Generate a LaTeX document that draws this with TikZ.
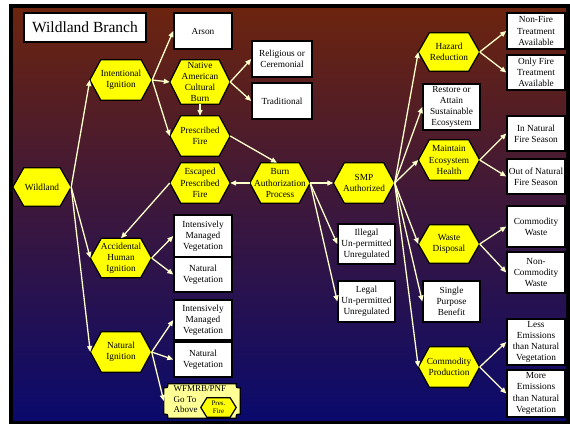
\documentclass[tikz,border=0pt]{standalone}
\usepackage{fontspec}
\setmainfont{Liberation Serif}
\usetikzlibrary{arrows.meta}
\definecolor{hexyel}{RGB}{255,255,0}
\definecolor{plaque}{RGB}{255,255,150}
\definecolor{arr}{RGB}{255,255,204}
\definecolor{topc}{RGB}{108,36,14}
\definecolor{midc}{RGB}{76,24,72}
\definecolor{botc}{RGB}{10,10,108}
\pgfdeclarelayer{back}
\pgfdeclarelayer{shapes}
\pgfsetlayers{back,shapes,main}
\tikzset{
  txt/.style={font=\fontsize{9.3}{11.2}\selectfont, align=center, inner sep=0pt, text=black},
  hx/.style 2 args={txt, minimum width=#1pt, minimum height=#2pt},
  bx/.style 2 args={txt, draw=black, line width=1.4pt, fill=white, minimum width=#1pt, minimum height=#2pt},
  hexline/.style={draw=black, line width=1.2pt, fill=hexyel, line join=miter},
  con/.style={draw=arr, line width=1.3pt, -{Triangle[length=6pt,width=5pt]}}
}
\begin{document}
\begin{tikzpicture}[x=1pt,y=-1pt]
\useasboundingbox (0,0) rectangle (570,426);
\begin{pgfonlayer}{back}
  \fill[white] (0,0) rectangle (570,426);
  \fill[black] (9,4) rectangle (570,424);
  \shade[top color=topc, middle color=midc, bottom color=botc] (13,8) rectangle (566,420);
\end{pgfonlayer}

% title
\node[bx={122}{29}, font=\fontsize{15.5}{18}\selectfont] (title) at (85,27.5) {Wildland Branch};

% hexagon nodes (shapes drawn on layer below)
\node[hx={58}{38}] (wild) at (42,187) {Wildland};
\node[hx={62}{40}] (intent) at (121,80) {Intentional\\Ignition};
\node[hx={60}{44}] (native) at (200,82) {Native\\American\\Cultural\\Burn};
\node[hx={60}{40}] (presc) at (200,136) {Prescribed\\Fire};
\node[hx={60}{40}] (escaped) at (200,183) {Escaped\\Prescribed\\Fire};
\node[hx={60}{40}] (burn) at (280,183) {Burn\\Authorization\\Process};
\node[hx={61}{40}] (smp) at (364,183) {SMP\\Authorized};
\node[hx={61}{38}] (hazard) at (449,52) {Hazard\\Reduction};
\node[hx={61}{40}] (maintain) at (449,160) {Maintain\\Ecosystem\\Health};
\node[hx={61}{38}] (waste) at (449,244) {Waste\\Disposal};
\node[hx={61}{40}] (comprod) at (449,367) {Commodity\\Production};
\node[hx={61}{39}] (accid) at (121,258) {Accidental\\Human\\Ignition};
\node[hx={61}{40}] (natig) at (121,352) {Natural\\Ignition};

% boxes
\node[bx={58}{36}] (arson) at (203,31) {Arson};
\node[bx={60}{36}] (relig) at (282,59) {Religious or\\Ceremonial};
\node[bx={60}{36}] (trad) at (282,101) {Traditional};
\node[bx={57}{46}] (restore) at (451.5,107) {Restore or\\Attain\\Sustainable\\Ecosystem};
\node[bx={57}{41}] (single) at (451.5,301.5) {Single\\Purpose\\Benefit};
\node[bx={57}{40}] (illegal) at (366.5,244) {Illegal\\Un-permitted\\Unregulated};
\node[bx={57}{41}] (legal) at (366.5,301.5) {Legal\\Un-permitted\\Unregulated};
\node[bx={58}{36}] (nonfire) at (536,31) {Non-Fire\\Treatment\\Available};
\node[bx={58}{35}] (onlyfire) at (536,72.5) {Only Fire\\Treatment\\Available};
\node[bx={58}{35}] (innat) at (536,133.5) {In Natural\\Fire Season};
\node[bx={58}{35}] (outnat) at (536,176.5) {Out of Natural\\Fire Season};
\node[bx={58}{41}] (comwaste) at (536,226.5) {Commodity\\Waste};
\node[bx={58}{41}] (noncom) at (536,272.5) {Non-\\Commodity\\Waste};
\node[bx={58}{46}] (less) at (536,342) {Less\\Emissions\\than Natural\\Vegetation};
\node[bx={58}{47}] (more) at (536,393.5) {More\\Emissions\\than Natural\\Vegetation};
\node[bx={58}{42}] (imva) at (203,236) {Intensively\\Managed\\Vegetation};
\node[bx={58}{35}] (nva) at (203,274.5) {Natural\\Vegetation};
\node[bx={58}{40}] (imvb) at (203,320) {Intensively\\Managed\\Vegetation};
\node[bx={58}{35}] (nvb) at (203,359.5) {Natural\\Vegetation};

% plaque
\node[minimum width=76pt, minimum height=34pt, inner sep=0pt] (wfm) at (202,401) {};
\node[txt, font=\fontsize{9}{10.6}\selectfont, align=left, anchor=north west] (wfmtxt) at (173.5,385.5) {WFMRB/PNF\\Go To\\Above};
\node[txt, font=\fontsize{7}{8}\selectfont, minimum width=35pt, minimum height=19pt] (pres) at (218.5,407.5) {Pres.\\Fire};

\begin{pgfonlayer}{shapes}
  \foreach \n/\i in {wild/11pt,intent/11pt,native/11pt,presc/11pt,escaped/11pt,burn/11pt,smp/11pt,hazard/11pt,maintain/11pt,waste/11pt,comprod/11pt,accid/11pt,natig/11pt}
    \draw[hexline] (\n.west) -- ([xshift=\i]\n.north west) -- ([xshift=-\i]\n.north east) -- (\n.east) -- ([xshift=-\i]\n.south east) -- ([xshift=\i]\n.south west) -- cycle;
  \draw[draw=black, line width=1.2pt, fill=plaque]
    ([xshift=4pt]wfm.north west) -- ([xshift=-4pt]wfm.north east)
    .. controls ([xshift=-4pt,yshift=-4pt]wfm.north east) .. ([yshift=-4pt]wfm.north east)
    -- ([yshift=4pt]wfm.south east)
    .. controls ([xshift=-4pt,yshift=4pt]wfm.south east) .. ([xshift=-4pt]wfm.south east)
    -- ([xshift=4pt]wfm.south west)
    .. controls ([xshift=4pt,yshift=4pt]wfm.south west) .. ([yshift=4pt]wfm.south west)
    -- ([yshift=-4pt]wfm.north west)
    .. controls ([xshift=4pt,yshift=-4pt]wfm.north west) .. ([xshift=4pt]wfm.north west) -- cycle;
\end{pgfonlayer}
\draw[hexline] (pres.west) -- ([xshift=6pt]pres.north west) -- ([xshift=-6pt]pres.north east) -- (pres.east) -- ([xshift=-6pt]pres.south east) -- ([xshift=6pt]pres.south west) -- cycle;
\node[txt, font=\fontsize{7}{8}\selectfont] at (pres) {Pres.\\Fire};

% connectors
\draw[con] (wild.east) -- (intent.west);
\draw[con] (wild.east) -- (accid.west);
\draw[con] (wild.east) -- (natig.west);
\draw[con] (intent.east) -- (arson.west);
\draw[con] (intent.east) -- (native.west);
\draw[con] (intent.east) -- (presc.west);
\draw[con] (native.south) -- (presc.north);
\draw[con] (native.east) -- (relig.west);
\draw[con] (native.east) -- (trad.west);
\draw[con] (presc.east) -- ([xshift=-3pt]burn.north);
\draw[con] (burn.west) -- (escaped.east);
\draw[con] (burn.east) -- (smp.west);
\draw[con] (burn.east) -- (illegal.west);
\draw[con] (burn.east) -- (legal.west);
\draw[con] (escaped.west) -- (accid.north);
\draw[con] (accid.east) -- (imva.west);
\draw[con] (accid.east) -- (nva.west);
\draw[con] (natig.east) -- (imvb.west);
\draw[con] (natig.east) -- (nvb.west);
\draw[con] (natig.east) -- (wfm.west);
\draw[con] (smp.east) -- (hazard.west);
\draw[con] (smp.east) -- (restore.west);
\draw[con] (smp.east) -- (maintain.west);
\draw[con] (smp.east) -- (waste.west);
\draw[con] (smp.east) -- (single.west);
\draw[con] (smp.east) -- (comprod.west);
\draw[con] (hazard.east) -- (nonfire.west);
\draw[con] (hazard.east) -- (onlyfire.west);
\draw[con] (maintain.east) -- (innat.west);
\draw[con] (maintain.east) -- (outnat.west);
\draw[con] (waste.east) -- (comwaste.west);
\draw[con] (waste.east) -- (noncom.west);
\draw[con] (comprod.east) -- (less.west);
\draw[con] (comprod.east) -- (more.west);
\end{tikzpicture}
\end{document}
